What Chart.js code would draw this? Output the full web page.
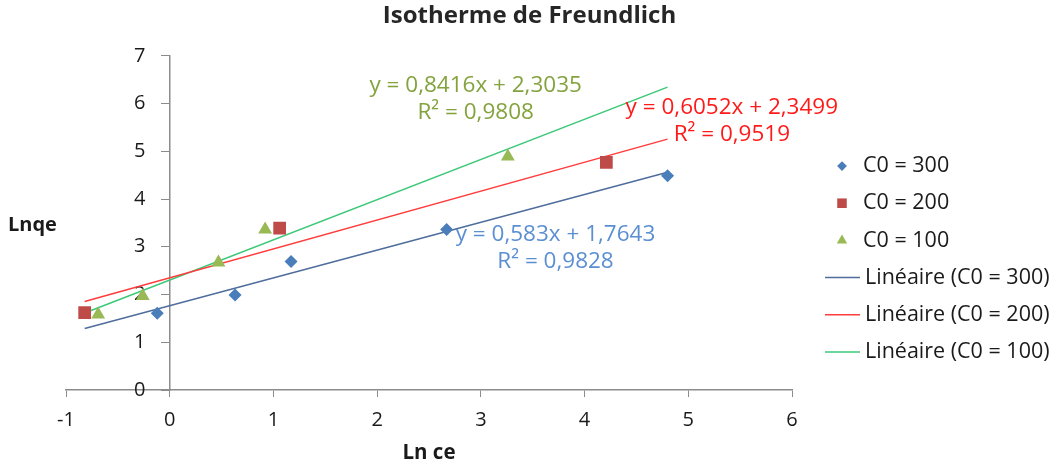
<!DOCTYPE html>
<html>
<head>
<meta charset="utf-8">
<title>Isotherme de Freundlich</title>
<script src="https://cdn.jsdelivr.net/npm/chart.js@4/dist/chart.umd.min.js"></script>
<style>
  html, body { margin: 0; padding: 0; background: #ffffff; }
  #wrap { width: 1059px; height: 467px; position: relative; }
</style>
</head>
<body>
<div id="wrap"><canvas id="chart" width="1059" height="467"></canvas></div>
<script>
// Ln ce / Ln qe measurements for each initial concentration
const lnCe300 = [-0.12, 0.63, 1.17, 2.67, 4.80];
const lnQe300 = [1.61, 1.99, 2.69, 3.36, 4.49];

const lnCe200 = [-0.82, 1.06, 4.21];
const lnQe200 = [1.62, 3.39, 4.77];

const lnCe100 = [-0.69, -0.26, 0.47, 0.92, 3.26];
const lnQe100 = [1.58, 1.97, 2.67, 3.36, 4.89];

// Linear fits (slope, intercept, R²) as reported on the chart
const fitSlopes = [0.583, 0.6052, 0.8416];
const fitIntercepts = [1.7643, 2.3499, 2.3035];
const fitR2 = ['0,9828', '0,9519', '0,9808'];

const seriesNames = ['C0 = 300', 'C0 = 200', 'C0 = 100'];
const xTicks = [-1, 0, 1, 2, 3, 4, 5, 6];
const yTicks = [0, 1, 2, 3, 4, 5, 6, 7];

const FONT = '"Open Sans", "DejaVu Sans", sans-serif';

const pts = (xs, ys) => xs.map((x, i) => ({ x, y: ys[i] }));
const allX = [].concat(lnCe300, lnCe200, lnCe100);
const xLo = Math.min(...allX);
const xHi = Math.max(...allX);
const fitLine = (k) => [
  { x: xLo, y: fitSlopes[k] * xLo + fitIntercepts[k] },
  { x: xHi, y: fitSlopes[k] * xHi + fitIntercepts[k] }
];
const fmt = (v) => String(v).replace('.', ',');
const eqText = (k) => 'y = ' + fmt(fitSlopes[k]) + 'x + ' + fmt(fitIntercepts[k]);

const markerColors = ['#4a7ebb', '#be4b48', '#98b954'];
const lineColors = ['#4f6d9c', '#ff3c3c', '#3cc878'];
const labelColors = ['#5b8fd2', '#ff1a1a', '#84a33e'];

// Equation labels, anchored in data coordinates
const eqAnchors = [
  { x: 3.72, y: 3.26, k: 0 },
  { x: 5.42, y: 5.92, k: 1 },
  { x: 2.95, y: 6.38, k: 2 }
];

const equationPlugin = {
  id: 'equations',
  afterDatasetsDraw(chart) {
    const { ctx, scales } = chart;
    ctx.save();
    ctx.font = '22.5px ' + FONT;
    ctx.textAlign = 'center';
    ctx.textBaseline = 'middle';
    eqAnchors.forEach(a => {
      const px = scales.x.getPixelForValue(a.x);
      const py = scales.y.getPixelForValue(a.y);
      ctx.fillStyle = labelColors[a.k];
      ctx.fillText(eqText(a.k), px, py);
      ctx.fillText('R² = ' + fitR2[a.k], px, py + 27);
    });
    // vertical axis caption, written horizontally
    ctx.font = 'bold 20px ' + FONT;
    ctx.fillStyle = '#1a1a1a';
    ctx.textAlign = 'left';
    ctx.fillText('Lnqe', 8, 225);
    ctx.restore();
  }
};

const legendPlugin = {
  id: 'sideLegend',
  afterDraw(chart) {
    const { ctx } = chart;
    const left = 825, top = 166, step = 37.2;
    ctx.save();
    ctx.font = '21.5px ' + FONT;
    ctx.textBaseline = 'middle';
    ctx.textAlign = 'left';
    chart.data.datasets.forEach((ds, i) => {
      const y = top + i * step;
      if (ds.type === 'line') {
        ctx.strokeStyle = ds.borderColor;
        ctx.lineWidth = 1.5;
        ctx.beginPath();
        ctx.moveTo(left, y);
        ctx.lineTo(left + 35, y);
        ctx.stroke();
        ctx.fillStyle = '#1a1a1a';
        ctx.fillText(ds.label, left + 40, y);
      } else {
        ctx.fillStyle = ds.backgroundColor;
        ctx.strokeStyle = ds.backgroundColor;
        Chart.helpers.drawPoint(ctx, {
          pointStyle: ds.pointStyle, radius: ds.pointRadius * 0.75, borderWidth: 0
        }, left + 17, y);
        ctx.fillStyle = '#1a1a1a';
        ctx.fillText(ds.label, left + 38, y);
      }
    });
    ctx.restore();
  }
};

const tickFont = { family: FONT, size: 20 };

// empty side axes that only reserve room around the plot area
const spacer = (side, width) => ({
  type: 'linear', axis: 'y', position: side, display: true,
  grid: { display: false }, border: { display: false }, ticks: { display: false },
  afterFit: (s) => { s.width = width; }
});

new Chart(document.getElementById('chart'), {
  type: 'scatter',
  data: {
    datasets: [
      { label: seriesNames[0], data: pts(lnCe300, lnQe300), pointStyle: 'rectRot', pointRadius: 6.5,
        backgroundColor: markerColors[0], borderColor: markerColors[0], borderWidth: 0 },
      { label: seriesNames[1], data: pts(lnCe200, lnQe200), pointStyle: 'rect', pointRadius: 9,
        backgroundColor: markerColors[1], borderColor: markerColors[1], borderWidth: 0 },
      { label: seriesNames[2], data: pts(lnCe100, lnQe100), pointStyle: 'triangle', pointRadius: 8,
        backgroundColor: markerColors[2], borderColor: markerColors[2], borderWidth: 0 },
      { type: 'line', label: 'Linéaire (' + seriesNames[0] + ')', data: fitLine(0),
        borderColor: lineColors[0], borderWidth: 1.5, pointRadius: 0, fill: false },
      { type: 'line', label: 'Linéaire (' + seriesNames[1] + ')', data: fitLine(1),
        borderColor: lineColors[1], borderWidth: 1.5, pointRadius: 0, fill: false },
      { type: 'line', label: 'Linéaire (' + seriesNames[2] + ')', data: fitLine(2),
        borderColor: lineColors[2], borderWidth: 1.5, pointRadius: 0, fill: false }
    ]
  },
  options: {
    responsive: false,
    animation: false,
    events: [],
    layout: { padding: 0 },
    plugins: {
      legend: { display: false },
      tooltip: { enabled: false },
      title: {
        display: true,
        text: 'Isotherme de Freundlich',
        color: '#262626',
        font: { family: FONT, size: 24, weight: 'bold' },
        padding: { top: 2, bottom: 25 }
      }
    },
    scales: {
      x: {
        type: 'linear',
        min: -1, max: 6,
        afterBuildTicks: (s) => { s.ticks = xTicks.map(v => ({ value: v })); },
        afterFit: (s) => { s.height = 77; },
        grid: { drawOnChartArea: false, drawTicks: true, tickLength: 7, color: '#8c8c8c' },
        border: { color: '#8c8c8c', width: 1.5 },
        ticks: { color: '#1a1a1a', font: tickFont, padding: 11 },
        title: { display: true, text: 'Ln ce', color: '#1a1a1a',
          font: { family: FONT, size: 20.5, weight: 'bold' }, padding: { top: 2, bottom: 2 } }
      },
      // vertical axis line and tick marks, crossing the x axis at 0
      y: {
        type: 'linear',
        position: { x: 0 },
        min: 0, max: 7,
        afterBuildTicks: (s) => { s.ticks = yTicks.map(v => ({ value: v })); },
        grid: { drawOnChartArea: false, drawTicks: true, tickLength: 8, color: '#8c8c8c' },
        border: { color: '#8c8c8c', width: 1.5 },
        ticks: { display: false }
      },
      // tick labels of the vertical axis, set just left of its tick marks
      yLabels: {
        type: 'linear',
        axis: 'y',
        position: { x: -0.235 },
        min: 0, max: 7,
        afterBuildTicks: (s) => { s.ticks = yTicks.map(v => ({ value: v })); },
        grid: { display: false },
        border: { display: false },
        ticks: { color: '#1a1a1a', font: tickFont }
      },
      padLeft: spacer('left', 66),
      padRight: spacer('right', 267)
    }
  },
  plugins: [equationPlugin, legendPlugin]
});
</script>
</body>
</html>
